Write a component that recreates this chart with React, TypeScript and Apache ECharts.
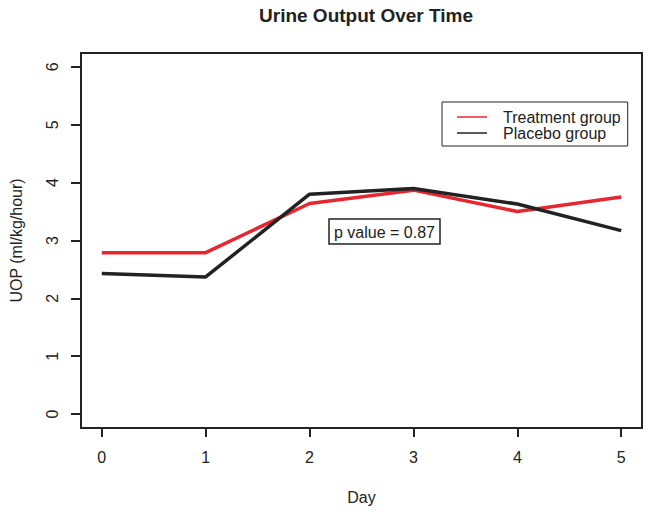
import React, { useEffect, useRef } from "react";
import * as echarts from "echarts";

const days = [0, 1, 2, 3, 4, 5];
const treatment = [2.79, 2.79, 3.64, 3.87, 3.5, 3.75];
const placebo = [2.43, 2.37, 3.8, 3.9, 3.63, 3.17];
const xTicks = [0, 1, 2, 3, 4, 5];
const yTicks = [0, 1, 2, 3, 4, 5, 6];
const seriesNames = ["Treatment group", "Placebo group"];
const pValueText = "p value = 0.87";

const FONT = "'Liberation Sans', Arial, sans-serif";

export default function App() {
  const ref = useRef<HTMLDivElement>(null);
  useEffect(() => {
    if (!ref.current) return;
    const chart = echarts.init(ref.current, null, { renderer: "svg" });
    chart.setOption({
      animation: false,
      backgroundColor: "#ffffff",
      textStyle: { fontFamily: FONT },
      title: {
        text: "Urine Output Over Time",
        left: 361,
        textAlign: "center",
        top: 1,
        textStyle: { fontFamily: FONT, fontSize: 19, fontWeight: "bold", color: "#222" },
      },
      grid: {
        left: 80,
        top: 53,
        width: 562,
        height: 375,
        show: true,
        borderColor: "#222",
        borderWidth: 2,
        backgroundColor: "transparent",
      },
      legend: {
        orient: "vertical",
        left: 442,
        top: 102,
        itemWidth: 30,
        itemHeight: 1.5,
        itemGap: 0,
        icon: "rect",
        borderColor: "#222",
        borderWidth: 1,
        padding: [7, 7, 5, 15],
        textStyle: {
          fontFamily: FONT,
          fontSize: 16,
          lineHeight: 15,
          color: "#222",
          padding: [0, 0, 0, 11],
        },
        data: seriesNames,
      },
      xAxis: {
        type: "value",
        min: -0.2,
        max: 5.2,
        name: "Day",
        nameLocation: "middle",
        nameGap: 61,
        nameTextStyle: { fontFamily: FONT, fontSize: 16, color: "#222" },
        axisLine: { show: false, onZero: false },
        splitLine: { show: false },
        axisTick: {
          show: true,
          inside: false,
          length: 9,
          lineStyle: { color: "#222", width: 2 },
          customValues: xTicks,
        },
        axisLabel: {
          fontFamily: FONT,
          fontSize: 16,
          color: "#222",
          margin: 21,
          customValues: xTicks,
        },
      },
      yAxis: {
        type: "value",
        min: -0.24,
        max: 6.24,
        name: "UOP (ml/kg/hour)",
        nameLocation: "middle",
        nameGap: 57,
        nameRotate: 90,
        nameTextStyle: { fontFamily: FONT, fontSize: 16, color: "#222" },
        axisLine: { show: false, onZero: false },
        splitLine: { show: false },
        axisTick: {
          show: true,
          inside: false,
          length: 10,
          lineStyle: { color: "#222", width: 2 },
          customValues: yTicks,
        },
        axisLabel: {
          fontFamily: FONT,
          fontSize: 16,
          color: "#222",
          rotate: 90,
          margin: 21,
          customValues: yTicks,
        },
      },
      series: [
        {
          name: seriesNames[0],
          type: "line",
          data: days.map((d, i) => [d, treatment[i]]),
          symbol: "none",
          lineStyle: { color: "#e8262f", width: 3.5 },
          itemStyle: { color: "#e8262f" },
          z: 2,
        },
        {
          name: seriesNames[1],
          type: "line",
          data: days.map((d, i) => [d, placebo[i]]),
          symbol: "none",
          lineStyle: { color: "#222222", width: 3.5 },
          itemStyle: { color: "#222222" },
          z: 3,
        },
      ],
      graphic: [
        {
          type: "rect",
          shape: { x: 329, y: 219, width: 111, height: 25 },
          style: { fill: "#fff", stroke: "#222", lineWidth: 1.5 },
          z: 10,
        },
        {
          type: "text",
          x: 384.5,
          y: 232,
          style: {
            text: pValueText,
            fontFamily: FONT,
            fontSize: 16,
            fill: "#222",
            align: "center",
            verticalAlign: "middle",
          },
          z: 11,
        },
      ],
    });
    return () => chart.dispose();
  }, []);
  return <div ref={ref} style={{ width: 649, height: 512, position: "absolute", left: 0, top: 0 }} />;
}
